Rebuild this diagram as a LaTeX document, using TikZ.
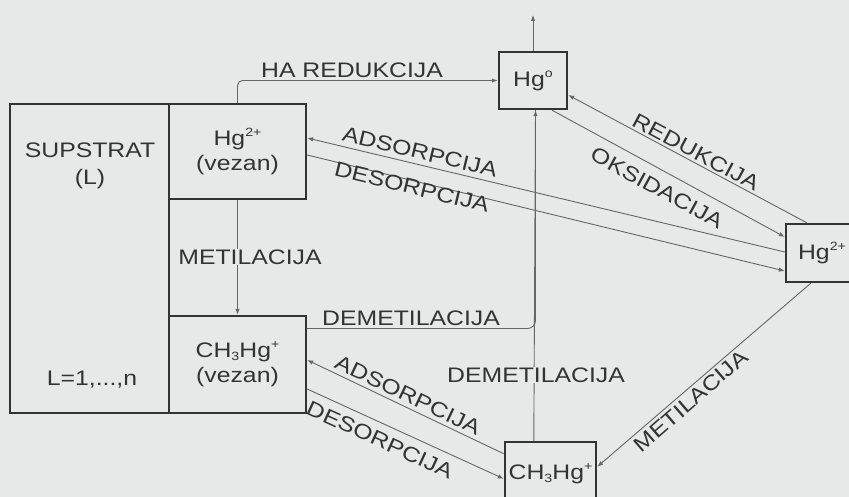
\documentclass[tikz,border=0pt]{standalone}
\usepackage{fontspec}
\setmainfont[FakeStretch=1.18]{Liberation Sans}
\usetikzlibrary{arrows.meta,calc}
\definecolor{bg}{HTML}{E6E9E8}
\definecolor{ink}{HTML}{333333}
\definecolor{wire}{HTML}{666666}
\newcommand{\hsup}[1]{\raisebox{9pt}{\fontsize{12}{12}\selectfont #1}}
\newcommand{\hsub}[1]{\raisebox{-3pt}{\fontsize{12}{12}\selectfont #1}}
\begin{document}
\begin{tikzpicture}[x=1pt,y=-1pt,
  box/.style={draw=ink, line width=2.4pt, inner sep=0pt, text=ink, align=center,
    font=\fontsize{21}{25}\selectfont},
  txt/.style={text=ink, inner sep=0pt, align=center, font=\fontsize{21}{27}\selectfont},
  lbl/.style={text=ink, inner sep=1pt, font=\fontsize{21}{25}\selectfont},
  wire/.style={draw=wire, line width=0.9pt},
  arr/.style={wire, -{Latex[length=6pt,width=4.5pt]}}]
\useasboundingbox (0,0) rectangle (849,497);
\clip (0,0) rectangle (849,497);
\fill[bg] (0,0) rectangle (849,497);

% boxes
\node[box, minimum width=159pt, minimum height=309pt] (sub) at (89.5,258.5) {};
\node[txt] (subt) at (90,166) {SUPSTRAT\\(L)};
\node[txt] (subn) at (92,380) {L=1,...,n};
\node[box, minimum width=137pt, minimum height=95pt] (hgv) at (237.5,151.5) {Hg\hsup{2+}\\(vezan)};
\node[box, minimum width=137pt, minimum height=97pt] (mhv) at (237.5,364.5) {CH\hsub{3}Hg\hsup{+}\\(vezan)};
\node[box, minimum width=68pt, minimum height=57pt] (hg0) at (533,80.5) {Hg\hsup{o}};
\node[box, minimum width=66pt, minimum height=58pt] (hg2) at (819,253) {\hspace{6pt}Hg\hsup{2+}};
\node[box, minimum width=91pt, minimum height=64pt] (mh) at (550.5,474) {CH\hsub{3}Hg\hsup{+}};
\coordinate (top) at (533,15);

% connectors
\draw[arr, rounded corners=5pt] (hgv.north) |- (hg0.west);
\draw[arr] (hg0.north) -- (top);
\draw[arr] ($(hg2.north west)+(22,0)$) -- ($(hg0.east)+(0,14.5)$);
\draw[arr] ($(hg0.south)+(19,0)$) -- ($(hg2.west)+(0,-16)$);
\draw[arr] ($(hg2.west)+(0,-1)$) -- ($(hgv.east)+(0,-13.5)$);
\draw[arr] ($(hgv.east)+(0,3.5)$) -- ($(hg2.west)+(0,18)$);
\draw[arr] (hgv.south) -- (mhv.north);
\draw[wire, rounded corners=8pt] ($(mhv.east)+(0,-36)$) -| ($(hg0.south)+(2.5,0)$);
\draw[arr] ($(mh.north west)+(30,0)$) -- ($(hg0.south)+(2.5,0)$);
\draw[arr] ($(mh.north west)+(0,13)$) -- ($(mhv.east)+(0,-4.5)$);
\draw[arr] ($(mhv.east)+(0,24.5)$) -- ($(mh.north west)+(0,38)$);
\draw[arr] ($(hg2.south west)+(26,0)$) -- ($(mh.north east)+(0,26)$);

% labels
\node[lbl] (lha) at (352,70) {HA REDUKCIJA};
\node[lbl, fill=bg] (lmet) at (250,257) {METILACIJA};
\node[lbl] (ldem1) at (411,318) {DEMETILACIJA};
\node[lbl, fill=bg] (ldem2) at (536,375) {DEMETILACIJA};
\node[lbl, rotate=-13.36] (lads1) at (420,152) {ADSORPCIJA};
\node[lbl, rotate=-13.59] (ldes1) at (412,187) {DESORPCIJA};
\node[lbl, rotate=-28.16] (lred) at (696,152) {REDUKCIJA};
\node[lbl, rotate=-28.68] (loks) at (657,188) {OKSIDACIJA};
\node[lbl, rotate=-25.52] (lads2) at (408,395) {ADSORPCIJA};
\node[lbl, rotate=-24.57] (ldes2) at (380,440) {DESORPCIJA};
\node[lbl, rotate=40.99] (lmet2) at (691,401) {METILACIJA};
\end{tikzpicture}
\end{document}
